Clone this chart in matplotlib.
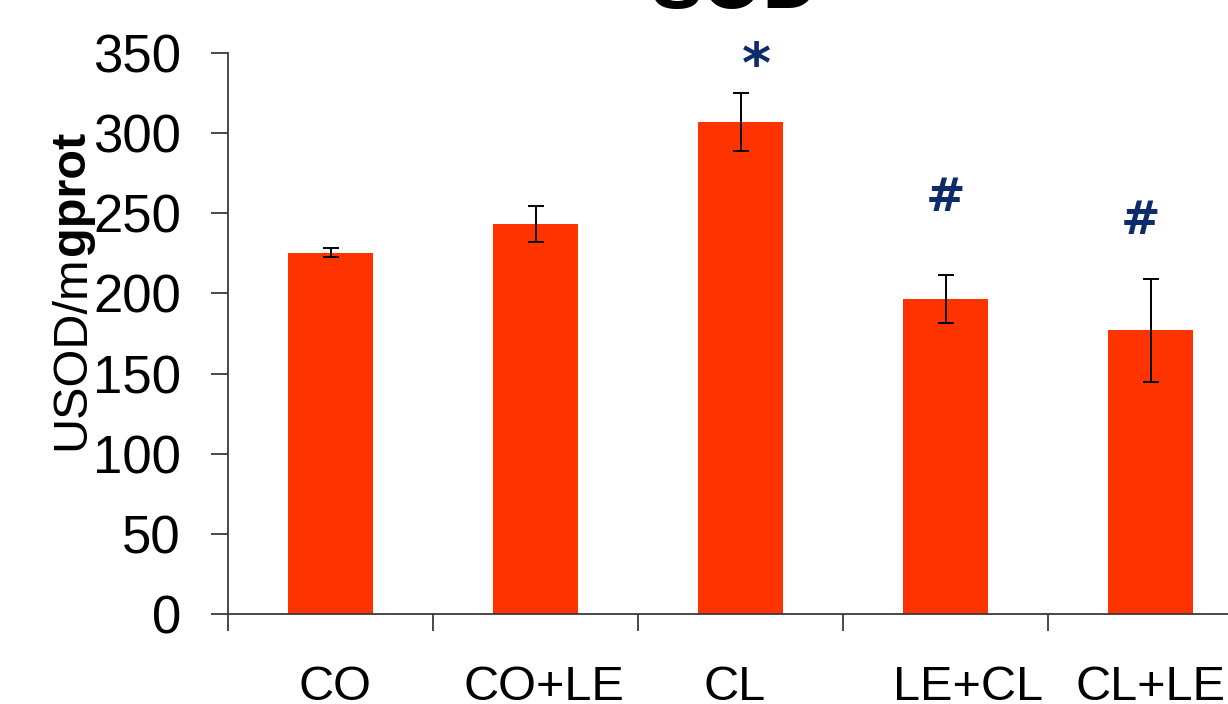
import matplotlib
matplotlib.use("Agg")
import matplotlib.pyplot as plt
import numpy as np

groups = ["CO", "CO+LE", "CL", "LE+CL", "CL+LE"]
sod_mean = [225.5, 243.3, 307.0, 196.5, 177.0]
sod_err = [3.0, 11.3, 18.3, 15.0, 32.0]
marks = ["", "", "*", "#", "#"]
mark_y = [None, None, 341, 259, 245]

bar_color = "#FF3300"
mark_color = "#0D2A6B"
axis_color = "#3a3a3a"

# group names are typed a little off-centre under the bars
label_shift = [0.02, 0.04, -0.03, 0.11, 0.0]

plt.rcParams["font.family"] = ["Liberation Sans", "DejaVu Sans"]

fig = plt.figure(figsize=(12.28, 7.04), dpi=100)
ax = fig.add_axes([228 / 1228, 90 / 704, 1025 / 1228, 561 / 704])

x = np.arange(len(groups))
ax.bar(x, sod_mean, width=0.41, color=bar_color, zorder=2)
ax.errorbar(x, sod_mean, yerr=sod_err, fmt="none", ecolor="black",
            elinewidth=1.4, capsize=6, capthick=1.4, zorder=3)

# significance markers above the bars
for i, (m, my) in enumerate(zip(marks, mark_y)):
    if not m:
        continue
    dx = 0.08 if m == "*" else (-0.05 if i == 4 else 0.0)
    size = 40 if m == "*" else 34
    ax.text(i + dx, my, m, ha="center", va="center", fontsize=size,
            fontweight="bold", color=mark_color,
            family=["DejaVu Sans"])

ax.set_xlim(-0.5, 4.5)
ax.set_ylim(0, 350)
ax.set_yticks(np.arange(0, 351, 50))

# group boundaries as major ticks, names on minor ticks under the bars
ax.set_xticks(np.arange(-0.5, 4.6, 1.0))
ax.set_xticklabels([])
ax.set_xticks(x + np.array(label_shift), minor=True)
ax.set_xticklabels(groups, minor=True)
ax.tick_params(axis="x", which="major", length=12, width=1.3,
               color=axis_color, direction="out")
ax.tick_params(axis="x", which="minor", length=0, pad=37, labelsize=35)
ax.tick_params(axis="y", length=12, width=1.3, color=axis_color,
               direction="out", pad=22, labelsize=38)

for side in ("top", "right"):
    ax.spines[side].set_visible(False)
for side in ("left", "bottom"):
    ax.spines[side].set_color(axis_color)
    ax.spines[side].set_linewidth(1.3)

# y label: unit part regular, "gprot" bold
lab1 = fig.text(84 / 1228, 1 - 450 / 704, "USOD/m", rotation=90,
                ha="left", va="baseline", fontsize=35,
                rotation_mode="anchor")
fig.canvas.draw()
bb = lab1.get_window_extent()
fig.text(84 / 1228, bb.y1 / fig.bbox.height, "gprot", rotation=90,
         ha="left", va="baseline", fontsize=35, fontweight="bold",
         rotation_mode="anchor")

fig.text(735 / 1228, 1 - 8 / 704, "SOD", ha="center", va="baseline",
         fontsize=56, fontweight="bold")

fig.savefig("out.png", dpi=100)
